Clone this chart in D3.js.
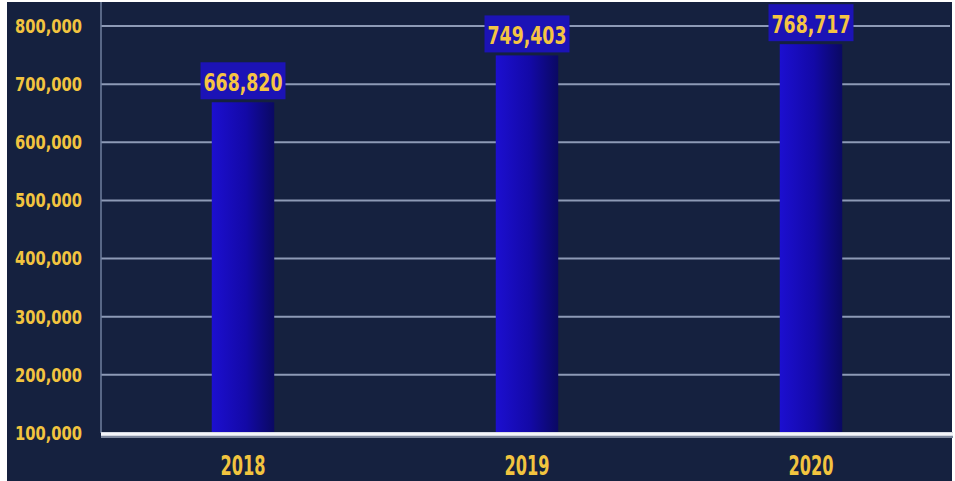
<!DOCTYPE html>
<html>
<head>
<meta charset="utf-8">
<script src="https://cdn.jsdelivr.net/npm/d3@7"></script>
<style>
  html, body { margin: 0; padding: 0; background: #ffffff; }
  svg { display: block; }
  text { font-stretch: condensed; }
</style>
</head>
<body>
<div id="chart"></div>
<script>
const years = ["2018", "2019", "2020"];
const visitors = [668820, 749403, 768717];
const yTicks = [100000, 200000, 300000, 400000, 500000, 600000, 700000, 800000];

const width = 955, height = 481;
const fontFam = "'DejaVu Sans Condensed', 'Liberation Sans Narrow', 'DejaVu Sans', sans-serif";

const svg = d3.select("#chart").append("svg")
    .attr("width", width)
    .attr("height", height);

// dégradé des barres
const defs = svg.append("defs");
const grad = defs.append("linearGradient")
    .attr("id", "barGrad")
    .attr("x1", "0%").attr("x2", "100%")
    .attr("y1", "0%").attr("y2", "0%");
grad.append("stop").attr("offset", "0%").attr("stop-color", "#1c0fd0");
grad.append("stop").attr("offset", "55%").attr("stop-color", "#1309a6");
grad.append("stop").attr("offset", "100%").attr("stop-color", "#0a0962");

// fond
svg.append("rect")
    .attr("x", 7).attr("y", 2)
    .attr("width", 945).attr("height", height - 2)
    .attr("fill", "#15213f");

const x = d3.scaleBand()
    .domain(years)
    .range([101, 953])
    .paddingInner(0.78)
    .paddingOuter(0.39);

const y = d3.scaleLinear()
    .domain([100000, 800000])
    .range([433, 26]);

// grille
svg.append("g")
    .selectAll("line")
    .data(yTicks.slice(1))
    .join("line")
    .attr("x1", 101).attr("x2", 950)
    .attr("y1", d => y(d)).attr("y2", d => y(d))
    .attr("stroke", "#8d9ab6")
    .attr("stroke-width", 2);

// axe vertical
svg.append("line")
    .attr("x1", 101).attr("x2", 101)
    .attr("y1", 2).attr("y2", 433)
    .attr("stroke", "#6f7f9f")
    .attr("stroke-width", 1.5);

// texte condensé : on resserre horizontalement pour imiter une police DIN
function narrowText(sel, fit) {
    sel.each(function() {
        const t = d3.select(this);
        const w = this.getComputedTextLength();
        if (w > fit) {
            t.attr("textLength", fit).attr("lengthAdjust", "spacingAndGlyphs");
        }
    });
}

// étiquettes de l'axe Y
svg.append("g")
    .selectAll("text")
    .data(yTicks)
    .join("text")
    .attr("x", 82)
    .attr("y", d => y(d))
    .attr("dy", "0.36em")
    .attr("text-anchor", "end")
    .attr("fill", "#f2c43f")
    .style("font-family", fontFam)
    .style("font-weight", "bold")
    .style("font-size", "19px")
    .text(d => d3.format(",")(d))
    .call(narrowText, 67);

// barres
svg.append("g")
    .selectAll("rect")
    .data(visitors)
    .join("rect")
    .attr("x", (d, i) => x(years[i]))
    .attr("y", d => y(d))
    .attr("width", x.bandwidth())
    .attr("height", d => y(100000) - y(d))
    .attr("fill", "url(#barGrad)");

// ligne de base
svg.append("line")
    .attr("x1", 101).attr("x2", 953)
    .attr("y1", 435).attr("y2", 435)
    .attr("stroke", "#7d889e")
    .attr("stroke-width", 6);
svg.append("line")
    .attr("x1", 101).attr("x2", 953)
    .attr("y1", 434).attr("y2", 434)
    .attr("stroke", "#f4f6fa")
    .attr("stroke-width", 3.5);

// étiquettes des valeurs
const labels = svg.append("g")
    .selectAll("g")
    .data(visitors)
    .join("g")
    .attr("transform", (d, i) => `translate(${x(years[i]) + x.bandwidth() / 2},${y(d)})`);

labels.append("rect")
    .attr("x", -42.5)
    .attr("y", -40)
    .attr("width", 85)
    .attr("height", 37)
    .attr("fill", "#1c13b6");

labels.append("text")
    .attr("x", 0)
    .attr("y", -11)
    .attr("text-anchor", "middle")
    .attr("fill", "#f5c443")
    .style("font-family", fontFam)
    .style("font-weight", "bold")
    .style("font-size", "24.5px")
    .text(d => d3.format(",")(d))
    .call(narrowText, 79);

// étiquettes de l'axe X
svg.append("g")
    .selectAll("text")
    .data(years)
    .join("text")
    .attr("x", d => x(d) + x.bandwidth() / 2)
    .attr("y", 475)
    .attr("text-anchor", "middle")
    .attr("fill", "#f2c43f")
    .style("font-family", fontFam)
    .style("font-weight", "bold")
    .style("font-size", "26px")
    .text(d => d)
    .call(narrowText, 45);
</script>
</body>
</html>
